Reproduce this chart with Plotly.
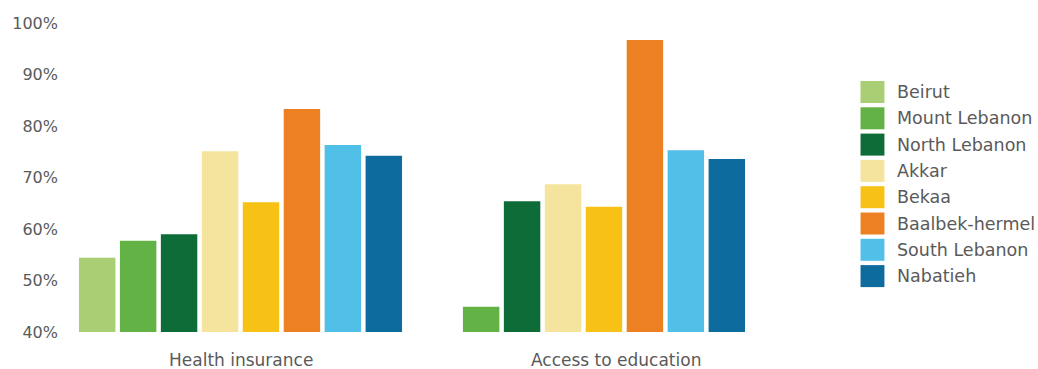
import plotly.graph_objects as go

# Indicator categories shown on the x axis
categories = ["Health insurance", "Access to education"]

# Governorates (one bar series each) and their colours
regions = ["Beirut", "Mount Lebanon", "North Lebanon", "Akkar",
           "Bekaa", "Baalbek-hermel", "South Lebanon", "Nabatieh"]
colors = ["#A9CE73", "#63B246", "#0E6C38", "#F5E49D",
          "#F7C215", "#EC8022", "#50C0E8", "#0D6B9E"]

# Share (%) per governorate: [Health insurance, Access to education]
beirut = [54.4, None]
mount_lebanon = [57.7, 44.9]
north_lebanon = [59.0, 65.4]
akkar = [75.1, 68.7]
bekaa = [65.2, 64.3]
baalbek_hermel = [83.3, 96.7]
south_lebanon = [76.3, 75.3]
nabatieh = [74.2, 73.6]

series = [beirut, mount_lebanon, north_lebanon, akkar,
          bekaa, baalbek_hermel, south_lebanon, nabatieh]

y_ticks = [40, 50, 60, 70, 80, 90, 100]
y_tick_text = ["40%", "50%", "60%", "70%", "80%", "90%", "100%"]

TEXT = "#5A5A5A"
FONT = "DejaVu Sans"

W, H = 1038, 369
PLOT_L, PLOT_R, PLOT_T, PLOT_B = 66, 755, 23, 332

fig = go.Figure()
for name, vals, col in zip(regions, series, colors):
    fig.add_trace(go.Bar(
        x=categories, y=vals, name=name,
        marker=dict(color=col, line=dict(width=0)),
        showlegend=False,
    ))

# Category labels under each group
label_shift = [0, 32]
for cat, dx in zip(categories, label_shift):
    fig.add_annotation(
        x=cat, xref="x", y=(PLOT_B - 360) / (PLOT_B - PLOT_T), yref="paper",
        text=cat, showarrow=False, xshift=dx,
        font=dict(family=FONT, size=17, color=TEXT),
        xanchor="center", yanchor="middle",
    )

# Legend: colour swatch plus region name
plot_w = PLOT_R - PLOT_L
plot_h = PLOT_B - PLOT_T
for i, (name, col) in enumerate(zip(regions, colors)):
    cy = 92 + i * 26.3
    fig.add_shape(
        type="rect", xref="paper", yref="paper",
        x0=(861 - PLOT_L) / plot_w, x1=(885 - PLOT_L) / plot_w,
        y0=(PLOT_B - (cy + 11)) / plot_h, y1=(PLOT_B - (cy - 11)) / plot_h,
        fillcolor=col, line=dict(width=0),
    )
    fig.add_annotation(
        xref="paper", yref="paper",
        x=(896 - PLOT_L) / plot_w, y=(PLOT_B - cy) / plot_h,
        text=name, showarrow=False, xanchor="left", yanchor="middle",
        font=dict(family=FONT, size=17.5, color=TEXT),
    )

fig.update_layout(
    width=W, height=H,
    margin=dict(l=PLOT_L, r=W - PLOT_R, t=PLOT_T, b=H - PLOT_B),
    paper_bgcolor="white", plot_bgcolor="white",
    barmode="group", bargap=0.045, bargroupgap=0.11,
    showlegend=False,
    font=dict(family=FONT, color=TEXT),
)
fig.update_xaxes(
    range=[-0.5, 1.5], showticklabels=False, showgrid=False,
    zeroline=False, showline=False, ticks="",
)
fig.update_yaxes(
    range=[40, 100], tickvals=y_ticks, ticktext=y_tick_text,
    showgrid=False, zeroline=False, showline=False, ticks="",
    tickfont=dict(family=FONT, size=16, color=TEXT),
    ticklabelstandoff=10,
)

fig.write_html("out.html")
